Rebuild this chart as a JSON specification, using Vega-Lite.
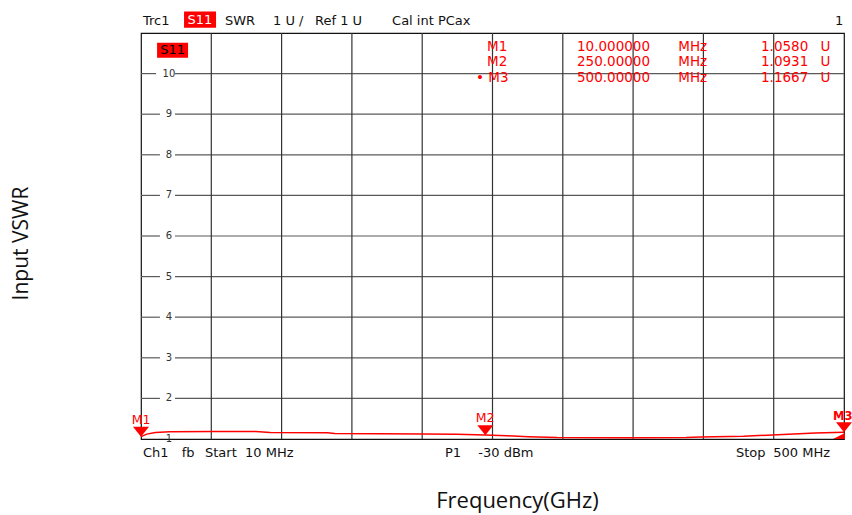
{
  "$schema": "https://vega.github.io/schema/vega-lite/v6.json",
  "width": 703,
  "height": 406,
  "autosize": {"type": "none"},
  "padding": {"left": 141, "top": 33, "right": 8, "bottom": 76},
  "background": "white",
  "config": {"view": {"stroke": "#111", "strokeWidth": 1.2}},
  "datasets": {
    "trace": [
      {"f": 10, "v": 1.058}, {"f": 14, "v": 1.12}, {"f": 20, "v": 1.16}, {"f": 30, "v": 1.18},
      {"f": 60, "v": 1.185}, {"f": 90, "v": 1.185}, {"f": 100, "v": 1.16}, {"f": 140, "v": 1.155},
      {"f": 145, "v": 1.135}, {"f": 206, "v": 1.125}, {"f": 230, "v": 1.12}, {"f": 250, "v": 1.1},
      {"f": 265, "v": 1.08}, {"f": 280, "v": 1.055}, {"f": 300, "v": 1.035}, {"f": 350, "v": 1.03},
      {"f": 390, "v": 1.035}, {"f": 400, "v": 1.05}, {"f": 430, "v": 1.07}, {"f": 450, "v": 1.1},
      {"f": 480, "v": 1.145}, {"f": 500, "v": 1.167}
    ],
    "hgrid": [
      {"v": 2, "a": 10, "b": 23.2}, {"v": 2, "a": 33.7, "b": 500},
      {"v": 3, "a": 10, "b": 23.2}, {"v": 3, "a": 33.7, "b": 500},
      {"v": 4, "a": 10, "b": 23.2}, {"v": 4, "a": 33.7, "b": 500},
      {"v": 5, "a": 10, "b": 23.2}, {"v": 5, "a": 33.7, "b": 500},
      {"v": 6, "a": 10, "b": 23.2}, {"v": 6, "a": 33.7, "b": 500},
      {"v": 7, "a": 10, "b": 23.2}, {"v": 7, "a": 33.7, "b": 500},
      {"v": 8, "a": 10, "b": 23.2}, {"v": 8, "a": 33.7, "b": 500},
      {"v": 9, "a": 10, "b": 23.2}, {"v": 9, "a": 33.7, "b": 500},
      {"v": 10, "a": 10, "b": 20.5}, {"v": 10, "a": 33.7, "b": 500}
    ],
    "vgrid": [
      {"f": 59}, {"f": 108}, {"f": 157}, {"f": 206}, {"f": 255},
      {"f": 304}, {"f": 353}, {"f": 402}, {"f": 451}
    ],
    "ticks": [
      {"t": "1", "v": 1}, {"t": "2", "v": 2}, {"t": "3", "v": 3}, {"t": "4", "v": 4}, {"t": "5", "v": 5},
      {"t": "6", "v": 6}, {"t": "7", "v": 7}, {"t": "8", "v": 8}, {"t": "9", "v": 9}, {"t": "10", "v": 10}
    ],
    "boxes": [
      {"f1": 40, "f2": 62.3, "v1": 11.53, "v2": 11.13},
      {"f1": 21.2, "f2": 42.8, "v1": 10.76, "v2": 10.39}
    ],
    "black": [
      {"t": "Trc1", "f": 11.4, "v": 11.29},
      {"t": "SWR", "f": 68.5, "v": 11.29},
      {"t": "1 U /", "f": 102, "v": 11.29},
      {"t": "Ref 1 U", "f": 131.3, "v": 11.29},
      {"t": "Cal int PCax", "f": 185, "v": 11.29},
      {"t": "1", "f": 493.7, "v": 11.29},
      {"t": "Ch1", "f": 11.4, "v": 0.655},
      {"t": "fb", "f": 38.4, "v": 0.655},
      {"t": "Start", "f": 54.6, "v": 0.655},
      {"t": "10 MHz", "f": 82.5, "v": 0.655},
      {"t": "P1", "f": 221.9, "v": 0.655},
      {"t": "-30 dBm", "f": 245.1, "v": 0.655},
      {"t": "Stop", "f": 424.7, "v": 0.655},
      {"t": "500 MHz", "f": 450.7, "v": 0.655}
    ],
    "table": [
      {"t": "M1", "f": 251.2, "v": 10.657},
      {"t": "M2", "f": 251.2, "v": 10.278},
      {"t": "• M3", "f": 243.5, "v": 9.893},
      {"t": "10.000000", "f": 313.9, "v": 10.657},
      {"t": "250.00000", "f": 313.9, "v": 10.278},
      {"t": "500.00000", "f": 313.9, "v": 9.893},
      {"t": "MHz", "f": 384.5, "v": 10.657},
      {"t": "MHz", "f": 384.5, "v": 10.278},
      {"t": "MHz", "f": 384.5, "v": 9.893},
      {"t": "U", "f": 483.7, "v": 10.657},
      {"t": "U", "f": 483.7, "v": 10.278},
      {"t": "U", "f": 483.7, "v": 9.893}
    ],
    "tableR": [
      {"t": "1.0580", "f": 475.1, "v": 10.657},
      {"t": "1.0931", "f": 475.1, "v": 10.278},
      {"t": "1.1667", "f": 475.1, "v": 9.893}
    ],
    "markers": [
      {"m": "M1", "f": 10, "v": 1.058},
      {"m": "M2", "f": 250, "v": 1.0931},
      {"m": "M3", "f": 500, "v": 1.1667}
    ],
    "mlabels": [
      {"t": "M1", "f": 10, "v": 1.47},
      {"t": "M2", "f": 249.8, "v": 1.52}
    ]
  },
  "encoding": {
    "x": {"type": "quantitative", "scale": {"domain": [10, 500], "nice": false, "zero": false}},
    "y": {"type": "quantitative", "scale": {"domain": [1, 11], "nice": false, "zero": false}}
  },
  "layer": [
    {
      "data": {"name": "hgrid"},
      "mark": {"type": "rule", "color": "#5a5a5a", "strokeWidth": 1.2},
      "encoding": {
        "x": {"field": "a", "type": "quantitative", "scale": {"domain": [10, 500], "nice": false, "zero": false},
              "axis": {"title": "Frequency(GHz)", "labels": false, "ticks": false, "domain": false, "grid": false,
                       "titleFont": "Open Sans", "titleFontSize": 22, "titleFontWeight": "normal", "titleColor": "#111",
                       "titlePadding": 51, "titleX": 376}},
        "x2": {"field": "b"},
        "y": {"field": "v", "type": "quantitative", "scale": {"domain": [1, 11], "nice": false, "zero": false},
              "axis": {"title": "Input VSWR", "labels": false, "ticks": false, "domain": false, "grid": false,
                       "titleFont": "Open Sans", "titleFontSize": 21, "titleFontWeight": "normal", "titleColor": "#111",
                       "titlePadding": 110, "titleY": 210}}
      }
    },
    {
      "data": {"name": "vgrid"},
      "mark": {"type": "rule", "color": "#333", "strokeWidth": 1.2},
      "encoding": {
        "x": {"field": "f", "type": "quantitative"},
        "y": {"datum": 1, "type": "quantitative"},
        "y2": {"datum": 11}
      }
    },
    {
      "data": {"name": "ticks"},
      "mark": {"type": "text", "font": "DejaVu Sans", "fontSize": 10, "color": "#333", "align": "center", "baseline": "middle"},
      "encoding": {
        "x": {"datum": 29.5, "type": "quantitative"},
        "y": {"field": "v", "type": "quantitative"},
        "text": {"field": "t"}
      }
    },
    {
      "data": {"name": "boxes"},
      "mark": {"type": "rect", "color": "#ff0000"},
      "encoding": {
        "x": {"field": "f1", "type": "quantitative"},
        "x2": {"field": "f2"},
        "y": {"field": "v1", "type": "quantitative"},
        "y2": {"field": "v2"}
      }
    },
    {
      "data": {"values": [{"t": "S11", "f": 51.1, "v": 11.33}]},
      "mark": {"type": "text", "font": "DejaVu Sans", "fontSize": 13, "color": "white", "align": "center", "baseline": "middle"},
      "encoding": {
        "x": {"field": "f", "type": "quantitative"},
        "y": {"field": "v", "type": "quantitative"},
        "text": {"field": "t"}
      }
    },
    {
      "data": {"values": [{"t": "S11", "f": 32, "v": 10.575}]},
      "mark": {"type": "text", "font": "DejaVu Sans", "fontSize": 13, "color": "black", "align": "center", "baseline": "middle"},
      "encoding": {
        "x": {"field": "f", "type": "quantitative"},
        "y": {"field": "v", "type": "quantitative"},
        "text": {"field": "t"}
      }
    },
    {
      "data": {"name": "black"},
      "mark": {"type": "text", "font": "DejaVu Sans", "fontSize": 13, "color": "#111", "align": "left", "baseline": "middle"},
      "encoding": {
        "x": {"field": "f", "type": "quantitative"},
        "y": {"field": "v", "type": "quantitative"},
        "text": {"field": "t"}
      }
    },
    {
      "data": {"name": "table"},
      "mark": {"type": "text", "font": "DejaVu Sans", "fontSize": 13.5, "color": "#ff0000", "align": "left", "baseline": "middle"},
      "encoding": {
        "x": {"field": "f", "type": "quantitative"},
        "y": {"field": "v", "type": "quantitative"},
        "text": {"field": "t"}
      }
    },
    {
      "data": {"name": "tableR"},
      "mark": {"type": "text", "font": "DejaVu Sans", "fontSize": 13.5, "color": "#ff0000", "align": "right", "baseline": "middle"},
      "encoding": {
        "x": {"field": "f", "type": "quantitative"},
        "y": {"field": "v", "type": "quantitative"},
        "text": {"field": "t"}
      }
    },
    {
      "data": {"name": "trace"},
      "mark": {"type": "line", "color": "#ff0000", "strokeWidth": 1.5},
      "encoding": {
        "x": {"field": "f", "type": "quantitative"},
        "y": {"field": "v", "type": "quantitative"}
      }
    },
    {
      "data": {"name": "markers"},
      "mark": {"type": "point", "shape": "M-1,-1.25L1,-1.25L0,0Z", "filled": true, "color": "#ff0000", "opacity": 1, "size": 256},
      "encoding": {
        "x": {"field": "f", "type": "quantitative"},
        "y": {"field": "v", "type": "quantitative"}
      }
    },
    {
      "data": {"values": [{"f": 500, "v": 1}]},
      "mark": {"type": "point", "shape": "M-2.2,0L0.2,0L0.2,-1.2Z", "filled": true, "color": "#ff0000", "opacity": 1, "size": 100},
      "encoding": {
        "x": {"field": "f", "type": "quantitative"},
        "y": {"field": "v", "type": "quantitative"}
      }
    },
    {
      "data": {"name": "mlabels"},
      "mark": {"type": "text", "font": "DejaVu Sans", "fontSize": 12.5, "color": "#ff0000", "align": "center", "baseline": "middle"},
      "encoding": {
        "x": {"field": "f", "type": "quantitative"},
        "y": {"field": "v", "type": "quantitative"},
        "text": {"field": "t"}
      }
    },
    {
      "data": {"values": [{"t": "M3", "f": 492.3, "v": 1.55}]},
      "mark": {"type": "text", "font": "DejaVu Sans", "fontSize": 11.5, "fontWeight": "bold", "color": "#ff0000", "align": "left", "baseline": "middle"},
      "encoding": {
        "x": {"field": "f", "type": "quantitative"},
        "y": {"field": "v", "type": "quantitative"},
        "text": {"field": "t"}
      }
    }
  ]
}
